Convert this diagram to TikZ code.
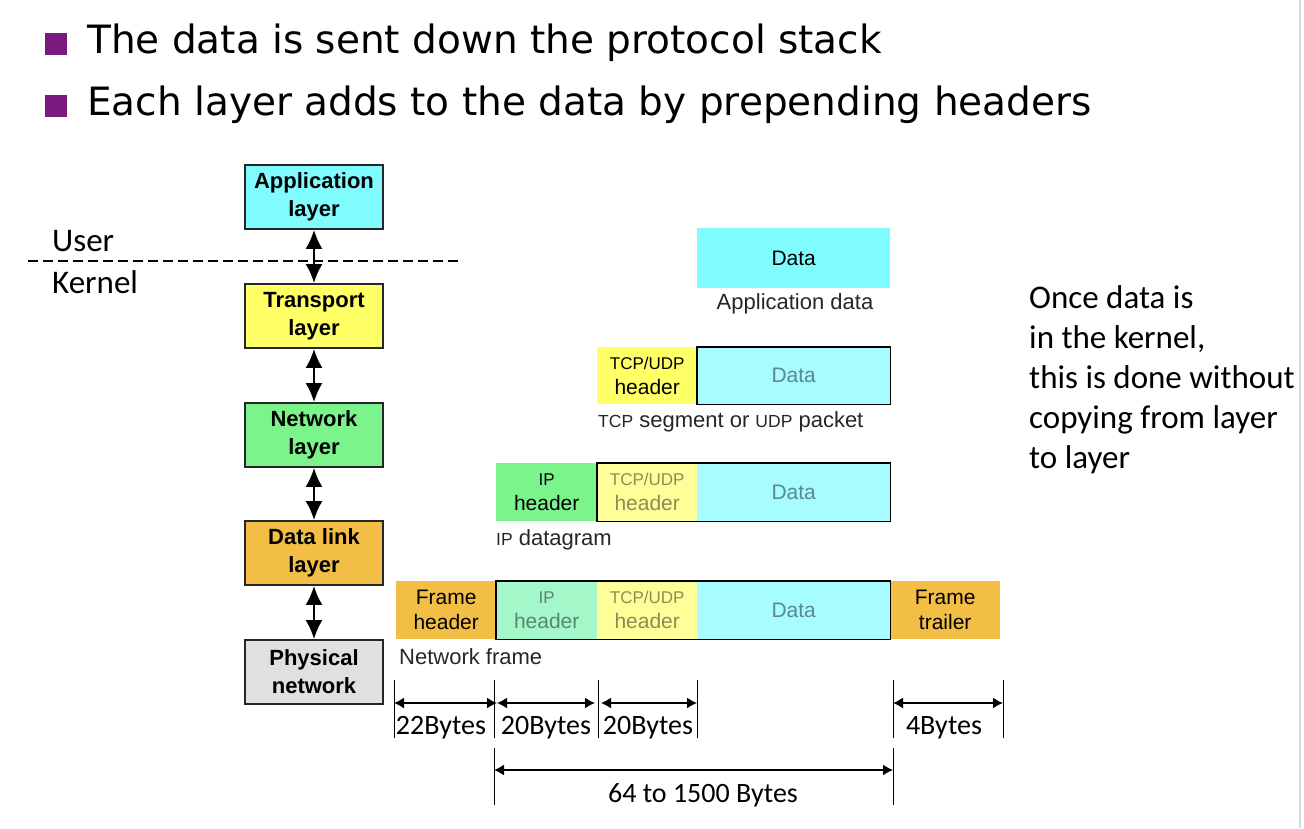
\documentclass[tikz,border=0pt]{standalone}
\usepackage{fontspec}
\usetikzlibrary{arrows.meta}
\setmainfont{Liberation Sans}
\newfontfamily\slidefont{DejaVu Sans}
\newfontfamily\notefont{Carlito}
\definecolor{appcyan}{HTML}{80FCFF}
\definecolor{palecyan}{HTML}{A6FCFF}
\definecolor{tcpyellow}{HTML}{FFFF66}
\definecolor{paleyellow}{HTML}{FFFF99}
\definecolor{ipgreen}{HTML}{7CF48C}
\definecolor{palegreen}{HTML}{A3F7C8}
\definecolor{frameorange}{HTML}{F2BE45}
\definecolor{physgray}{HTML}{E0E0E0}
\definecolor{bulletpurple}{HTML}{7A1A7F}
\newcommand{\sz}[1]{\fontsize{#1}{#1}\selectfont}

\begin{document}
\begin{tikzpicture}[x=1pt,y=-1pt]
	\tikzset{layer/.style = {draw=black!85, line width=1.8pt, minimum width=138, minimum height=64,
			inner sep=0, align=center, font=\bfseries\fontsize{22}{28}\selectfont}}
	\tikzset{seg/.style = {anchor=north west, inner sep=0, minimum height=58, align=center,
			font=\fontsize{21}{25}\selectfont}}
	\tikzset{faded/.style = {text opacity=0.45}}
	\tikzset{caption/.style = {inner sep=0, font=\fontsize{22}{22}\selectfont, text=black!85}}
	\tikzset{updown/.style = {line width=2.2pt, >={Latex[length=19pt,width=17pt]}, <->}}
	\tikzset{dim/.style = {line width=1.5pt, >={Latex[length=10pt,width=11pt]}, <->}}
	\tikzset{tick/.style = {line width=1pt}}
	\tikzset{bytes/.style = {inner sep=0, font=\notefont\fontsize{28}{28}\selectfont}}
	\useasboundingbox (0,0) rectangle (1304,828);
	\draw[black!15, line width=2pt] (1300,0) -- (1300,828);
	% bullets
	\node[fill=bulletpurple, minimum size=22, inner sep=0] (b1) at (56,44) {};
	\node[fill=bulletpurple, minimum size=22, inner sep=0] (b2) at (56,106) {};
	\node[anchor=west, inner sep=0, font=\slidefont\fontsize{39}{39}\selectfont] (l1) at (87,43) {The data is sent down the protocol stack};
	\node[anchor=west, inner sep=0, font=\slidefont\fontsize{39}{39}\selectfont] (l2) at (87,105) {Each layer adds to the data by prepending headers};
	% layers
	\node[layer, fill=appcyan] (app) at (314,197) {Application\\layer};
	\node[layer, fill=tcpyellow] (trans) at (314,316) {Transport\\layer};
	\node[layer, fill=ipgreen] (net) at (314,435) {Network\\layer};
	\node[layer, fill=frameorange] (link) at (314,553) {Data link\\layer};
	\node[layer, fill=physgray] (phys) at (314,672) {Physical\\network};
	\draw[updown] (app) -- (trans);
	\draw[updown] (trans) -- (net);
	\draw[updown] (net) -- (link);
	\draw[updown] (link) -- (phys);
	% user / kernel
	\coordinate (uk1) at (28,261);
	\coordinate (uk2) at (458,261);
	\draw[line width=2pt, dash pattern=on 10pt off 5pt] (uk1) -- (uk2);
	\node[anchor=west, inner sep=0, font=\notefont\fontsize{33}{33}\selectfont] (user) at (52,241) {User};
	\node[anchor=west, inner sep=0, font=\notefont\fontsize{33}{33}\selectfont] (kernel) at (52,282) {Kernel};
	% application data
	\node[seg, fill=appcyan, minimum width=193, minimum height=60] (d1) at (697,228) {Data};
	\node[caption] (c1) at (795,304) {Application data};
	% tcp segment
	\node[seg, fill=tcpyellow, minimum width=100, minimum height=57] (t2) at (597,347) {{\sz{17}TCP/UDP}\\header};
	\node[seg, fill=palecyan, faded, minimum width=193, minimum height=57] (d2) at (697,347) {Data};
	\draw[line width=1.6pt] (d2.north west) rectangle (d2.south east);
	\node[caption, anchor=west] (c2) at (598,422) {{\sz{17.5}TCP} segment or {\sz{17.5}UDP} packet};
	% ip datagram
	\node[seg, fill=ipgreen, minimum width=101] (i3) at (496,463) {{\sz{17}IP}\\header};
	\node[seg, fill=paleyellow, faded, minimum width=100] (t3) at (597,463) {{\sz{17}TCP/UDP}\\header};
	\node[seg, fill=palecyan, faded, minimum width=193] (d3) at (697,463) {Data};
	\draw[line width=1.6pt] (t3.north west) rectangle (d3.south east);
	\node[caption, anchor=west] (c3) at (496,540) {{\sz{17.5}IP} datagram};
	% network frame
	\node[seg, fill=frameorange, minimum width=100] (f4) at (396,581) {Frame\\header};
	\node[seg, fill=palegreen, faded, minimum width=101] (i4) at (496,581) {{\sz{17}IP}\\header};
	\node[seg, fill=paleyellow, faded, minimum width=100] (t4) at (597,581) {{\sz{17}TCP/UDP}\\header};
	\node[seg, fill=palecyan, faded, minimum width=193] (d4) at (697,581) {Data};
	\node[seg, fill=frameorange, minimum width=110] (e4) at (890,581) {Frame\\trailer};
	\draw[line width=1.6pt] (i4.north west) rectangle (d4.south east);
	\node[caption, anchor=west] (c4) at (399,657) {Network frame};
	% byte sizes
	\coordinate (atop) at (394,680);  \coordinate (abot) at (394,738);  \coordinate (amid) at (394,703);
	\coordinate (btop) at (494,680);  \coordinate (bbot) at (494,738);  \coordinate (bmid) at (497,703);
	\coordinate (ctop) at (598,680);  \coordinate (cbot) at (598,738);  \coordinate (cmid) at (598,703);
	\coordinate (dtop) at (697,680);  \coordinate (dbot) at (697,738);  \coordinate (dmid) at (697,703);
	\coordinate (etop) at (893,680);  \coordinate (ebot) at (893,738);  \coordinate (emid) at (893,703);
	\coordinate (ftop) at (1003,680); \coordinate (fbot) at (1003,738); \coordinate (fmid) at (1003,703);
	\foreach \n in {a,b,c,d,e,f}
		\draw[tick] (\n top) -- (\n bot);
	\draw[dim] (amid) -- (bmid);
	\draw[dim] (bmid) -- ([xshift=-3]cmid);
	\draw[dim] ([xshift=3]cmid) -- (dmid);
	\draw[dim] (emid) -- (fmid);
	\node[bytes] (s1) at (441,728) {22Bytes};
	\node[bytes] (s2) at (546,728) {20Bytes};
	\node[bytes] (s3) at (648,728) {20Bytes};
	\node[bytes] (s4) at (944,728) {4Bytes};
	\coordinate (gtop) at (494,748); \coordinate (gbot) at (494,805); \coordinate (gmid) at (494,770);
	\coordinate (htop) at (893,748); \coordinate (hbot) at (893,805); \coordinate (hmid) at (893,770);
	\draw[tick] (gtop) -- (gbot);
	\draw[tick] (htop) -- (hbot);
	\draw[dim] (gmid) -- (hmid);
	\node[bytes] (total) at (703,795) {64 to 1500 Bytes};
	% note
	\node[anchor=north west, inner sep=0, align=left, font=\notefont\fontsize{33}{40}\selectfont] (note) at (1029,285)
		{Once data is\\in the kernel,\\this is done without\\copying from layer\\to layer};
\end{tikzpicture}
\end{document}
